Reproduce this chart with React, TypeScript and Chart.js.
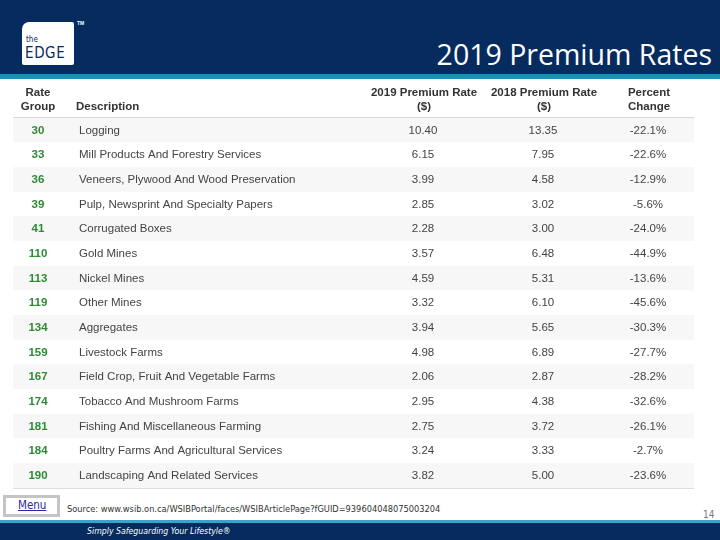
import React, { useEffect, useRef } from "react";
import { Chart, registerables } from "chart.js";

Chart.register(...registerables);

const rateGroups = ["30", "33", "36", "39", "41", "110", "113", "119", "134", "159", "167", "174", "181", "184", "190"];
const descriptions = [
  "Logging",
  "Mill Products And Forestry Services",
  "Veneers, Plywood And Wood Preservation",
  "Pulp, Newsprint And Specialty Papers",
  "Corrugated Boxes",
  "Gold Mines",
  "Nickel Mines",
  "Other Mines",
  "Aggregates",
  "Livestock Farms",
  "Field Crop, Fruit And Vegetable Farms",
  "Tobacco And Mushroom Farms",
  "Fishing And Miscellaneous Farming",
  "Poultry Farms And Agricultural Services",
  "Landscaping And Related Services",
];
const rate2019 = [10.4, 6.15, 3.99, 2.85, 2.28, 3.57, 4.59, 3.32, 3.94, 4.98, 2.06, 2.95, 2.75, 3.24, 3.82];
const rate2018 = [13.35, 7.95, 4.58, 3.02, 3.0, 6.48, 5.31, 6.1, 5.65, 6.89, 2.87, 4.38, 3.72, 3.33, 5.0];
const pctChange = [-22.1, -22.6, -12.9, -5.6, -24.0, -44.9, -13.6, -45.6, -30.3, -27.7, -28.2, -32.6, -26.1, -2.7, -23.6];
const headerLine1 = ["Rate", "", "2019 Premium Rate", "2018 Premium Rate", "Percent"];
const headerLine2 = ["Group", "Description", "($)", "($)", "Change"];

const NAVY = "#062b5e";
const TEAL = "#1d8fb6";
const FONT = '"Liberation Sans", Arial, sans-serif';

// column anchor x (canvas px) and alignment
const colX = [38, 79, 423, 543, 648];
const headX = [38, 76, 424, 544, 649];
const colAlign: CanvasTextAlign[] = ["center", "left", "center", "center", "center"];

const tablePlugin = {
  id: "tableText",
  afterDraw(chart: any) {
    const { ctx, chartArea } = chart;
    const y = chart.scales.y;
    ctx.save();
    ctx.textBaseline = "middle";
    // header
    ctx.fillStyle = "#333333";
    ctx.font = `bold 11.5px ${FONT}`;
    for (let c = 0; c < 5; c++) {
      ctx.textAlign = colAlign[c];
      if (headerLine1[c]) ctx.fillText(headerLine1[c], headX[c], chartArea.top - 25);
      ctx.fillText(headerLine2[c], headX[c], chartArea.top - 11);
    }
    // rows
    rateGroups.forEach((g, i) => {
      const py = y.getPixelForValue(i);
      ctx.font = `bold 11.5px ${FONT}`;
      ctx.fillStyle = "#2f8a34";
      ctx.textAlign = "center";
      ctx.fillText(g, colX[0], py);
      ctx.font = `11.5px ${FONT}`;
      ctx.fillStyle = "#444444";
      ctx.textAlign = "left";
      ctx.fillText(descriptions[i], colX[1], py);
      ctx.textAlign = "center";
      ctx.fillText(rate2019[i].toFixed(2), colX[2], py);
      ctx.fillText(rate2018[i].toFixed(2), colX[3], py);
      ctx.fillText(pctChange[i].toFixed(1) + "%", colX[4], py);
    });
    ctx.restore();
  },
};

function TableChart() {
  const ref = useRef<HTMLCanvasElement>(null);
  useEffect(() => {
    if (!ref.current) return;
    const chart = new Chart(ref.current, {
      type: "bar",
      data: {
        labels: rateGroups,
        datasets: [
          {
            data: rateGroups.map(() => [0, 1]) as any,
            backgroundColor: rateGroups.map((_, i) => (i % 2 === 0 ? "#f7f7f7" : "#ffffff")),
            borderWidth: 0,
            barPercentage: 1,
            categoryPercentage: 1,
          },
        ],
      },
      options: {
        indexAxis: "y",
        responsive: false,
        animation: false,
        events: [],
        layout: { padding: { left: 13, right: 26, top: 38, bottom: 4 } },
        plugins: { legend: { display: false }, tooltip: { enabled: false }, title: { display: false } },
        scales: {
          x: { type: "linear", min: 0, max: 1, display: false },
          y: {
            type: "category",
            z: 1,
            offset: true,
            ticks: { display: false },
            border: { display: false },
            grid: {
              offset: true,
              drawTicks: false,
              color: (c: any) => (c.index === 0 ? "#d6d6d6" : "#dddddd"),
              lineWidth: (c: any) => (c.index === 0 ? 2 : 1),
            },
            afterFit: (s: any) => {
              s.width = 0;
            },
          },
        },
      },
      plugins: [tablePlugin],
    });
    return () => chart.destroy();
  }, []);
  return (
    <canvas
      ref={ref}
      width={720}
      height={412}
      style={{ position: "absolute", left: 0, top: 80, width: 720, height: 412, display: "block" }}
    />
  );
}

export default function App() {
  const narrow = '"Liberation Sans Narrow", "DejaVu Sans Condensed", "Open Sans", sans-serif';
  return (
    <div
      style={{
        position: "absolute",
        left: 0,
        top: 0,
        width: 720,
        height: 540,
        overflow: "hidden",
        background: "#ffffff",
        fontFamily: FONT,
      }}
    >
      <div style={{ position: "absolute", left: 0, top: 0, width: 720, height: 74, background: NAVY }} />
      <div style={{ position: "absolute", left: 0, top: 74, width: 720, height: 5, background: TEAL }} />
      <div
        style={{
          position: "absolute",
          left: 22,
          top: 22,
          width: 52,
          height: 43,
          background: "#ffffff",
          borderRadius: "7px 2px 2px 2px",
        }}
      />
      <div style={{ position: "absolute", left: 26, top: 36, fontSize: 8, color: NAVY, fontFamily: narrow, lineHeight: 1 }}>
        the
      </div>
      <div
        style={{
          position: "absolute",
          left: 25,
          top: 46,
          fontSize: 15,
          color: NAVY,
          fontFamily: narrow,
          lineHeight: 1,
          letterSpacing: 0.6,
        }}
      >
        EDGE
      </div>
      <div style={{ position: "absolute", left: 77, top: 21, fontSize: 5, color: "#ffffff", fontWeight: "bold", lineHeight: 1 }}>
        TM
      </div>
      <div
        style={{
          position: "absolute",
          right: 8,
          top: 40,
          fontSize: 28.5,
          lineHeight: "28px",
          color: "#ffffff",
          fontFamily: '"Open Sans", sans-serif',
          whiteSpace: "nowrap",
        }}
      >
        2019 Premium Rates
      </div>

      <TableChart />

      <div
        style={{
          position: "absolute",
          left: 3,
          top: 495,
          width: 57,
          height: 22,
          boxSizing: "border-box",
          border: "3px solid #c4c4c4",
          background: "#ffffff",
        }}
      />
      <div
        style={{
          position: "absolute",
          left: 18,
          top: 500,
          fontSize: 11.5,
          lineHeight: 1,
          color: "#2a2aa8",
          textDecoration: "underline",
          fontFamily: narrow,
        }}
      >
        Menu
      </div>
      <div
        style={{
          position: "absolute",
          left: 67,
          top: 504,
          fontSize: 9.2,
          lineHeight: 1,
          color: "#333333",
          fontFamily: narrow,
          whiteSpace: "nowrap",
        }}
      >
        Source: www.wsib.on.ca/WSIBPortal/faces/WSIBArticlePage?fGUID=939604048075003204
      </div>
      <div style={{ position: "absolute", left: 703, top: 510, fontSize: 10, lineHeight: 1, color: "#777777", fontFamily: narrow }}>
        14
      </div>
      <div style={{ position: "absolute", left: 0, top: 520, width: 720, height: 3, background: "#3aa3c8" }} />
      <div style={{ position: "absolute", left: 0, top: 523, width: 720, height: 17, background: NAVY }} />
      <div
        style={{
          position: "absolute",
          left: 87,
          top: 527,
          fontSize: 8.7,
          lineHeight: 1,
          color: "#ffffff",
          fontStyle: "italic",
          fontFamily: narrow,
          whiteSpace: "nowrap",
        }}
      >
        Simply Safeguarding Your Lifestyle®
      </div>
    </div>
  );
}
